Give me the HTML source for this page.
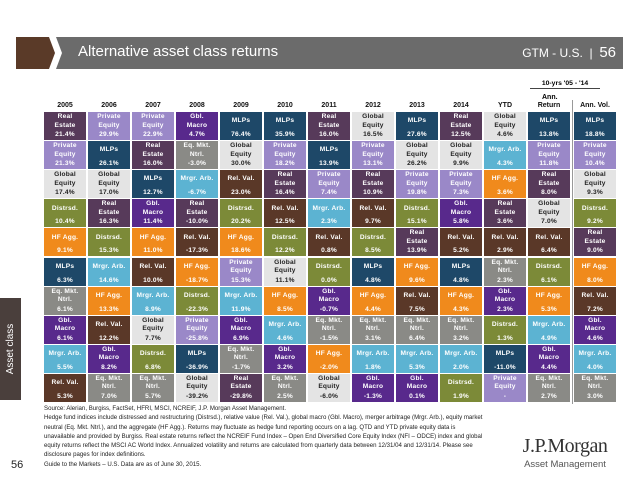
<!DOCTYPE html>
<html><head><meta charset="utf-8"><style>
body{margin:0;width:638px;height:479px;background:#fff;position:relative;overflow:hidden;font-family:"Liberation Sans",sans-serif}
.abs{position:absolute}
.cell{position:absolute;width:42px;height:28px;color:#fff;font-weight:bold;font-size:6.6px;letter-spacing:0.2px;text-align:center}
.cell .nm{position:absolute;left:0;right:0;top:0;height:19px;display:flex;align-items:center;justify-content:center;line-height:8.4px}
.cell .vl{position:absolute;left:0;right:0;bottom:1px;line-height:8px}
.hd{position:absolute;width:44px;text-align:center;font-size:7px;font-weight:bold;color:#111}
.fn{position:absolute;left:44px;font-size:6.1px;color:#222;line-height:9.3px;width:440px}
</style></head><body>
<svg class="abs" style="left:0;top:0" width="638" height="80">
<polygon points="16,37 49,37 55,53 49,69 16,69" fill="#5a3a28"/>
<polygon points="56,37 623,37 623,69 56,69 62,53" fill="#6b6b6b"/>
</svg>
<div class="abs" style="left:78px;top:43px;font-size:15px;color:#fff">Alternative asset class returns</div>
<div class="abs" style="left:470px;top:44px;font-size:12px;color:#fff;width:146px;text-align:right;white-space:nowrap">GTM - U.S. &nbsp;|&nbsp; <span style="font-size:15px">56</span></div>
<div class="abs" style="left:530px;top:80px;font-size:6.8px;font-weight:bold;width:70px;text-align:center;border-bottom:1px solid #444;padding-bottom:1px">10-yrs '05 - '14</div>
<div class="abs" style="left:542px;top:94px;font-size:7px;font-weight:bold">Ann.</div>
<div class="abs" style="left:572px;top:100px;width:1px;height:304px;background:#999"></div>
<div class="abs" style="left:0;top:298px;width:21px;height:102px;background:#4a3f3c"></div>
<div class="abs" style="left:-40px;top:342px;width:102px;height:14px;line-height:14px;text-align:center;color:#fff;font-size:10px;transform:rotate(-90deg)">Asset class</div>
<div id="grid"></div>
<div class="fn" style="top:404px">Source: Alerian, Burgiss, FactSet, HFRI, MSCI, NCREIF, J.P. Morgan Asset Management.<br>Hedge fund indices include distressed and restructuring (Distrsd.), relative value (Rel. Val.), global macro (Gbl. Macro), merger arbitrage (Mrgr. Arb.), equity market neutral (Eq. Mkt. Ntrl.), and the aggregate (HF Agg.). Returns may fluctuate as hedge fund reporting occurs on a lag. QTD and YTD private equity data is unavailable and provided by Burgiss. Real estate returns reflect the NCREIF Fund Index – Open End Diversified Core Equity Index (NFI – ODCE) index and global equity returns reflect the MSCI AC World Index. Annualized volatility and returns are calculated from quarterly data between 12/31/04 and 12/31/14. Please see disclosure pages for index definitions.<br>Guide to the Markets – U.S. Data are as of June 30, 2015.</div>
<div class="abs" style="left:11px;top:459px;font-size:11px;color:#222">56</div>
<div class="abs" style="left:495px;top:435px;width:140px;text-align:center;font-family:'Liberation Serif',serif;font-size:20px;color:#333;letter-spacing:-0.5px">J.P.Morgan</div>
<div class="abs" style="left:495px;top:459px;width:140px;text-align:center;font-size:9.5px;color:#555">Asset Management</div>
<script>
const headers=["2005","2006","2007","2008","2009","2010","2011","2012","2013","2014","YTD","Return","Ann. Vol."];
const c2005=["RE","PE","GE","DI","HF","ML","EQ","GM","MA","RV"];const v2005=["21.4%","21.3%","17.4%","10.4%","9.1%","6.3%","6.1%","6.1%","5.5%","5.3%"];
const c2006=["PE","ML","GE","RE","DI","MA","HF","RV","GM","EQ"];const v2006=["29.9%","26.1%","17.0%","16.3%","15.3%","14.6%","13.3%","12.2%","8.2%","7.0%"];
const c2007=["PE","RE","ML","GM","HF","RV","MA","GE","DI","EQ"];const v2007=["22.9%","16.0%","12.7%","11.4%","11.0%","10.0%","8.9%","7.7%","6.8%","5.7%"];
const c2008=["GM","EQ","MA","RE","RV","HF","DI","PE","ML","GE"];const v2008=["4.7%","-3.0%","-6.7%","-10.0%","-17.3%","-18.7%","-22.3%","-25.8%","-36.9%","-39.2%"];
const c2009=["ML","GE","RV","DI","HF","PE","MA","GM","EQ","RE"];const v2009=["76.4%","30.0%","23.0%","20.2%","18.6%","15.3%","11.9%","6.9%","-1.7%","-29.8%"];
const c2010=["ML","PE","RE","RV","DI","GE","HF","MA","GM","EQ"];const v2010=["35.9%","18.2%","16.4%","12.5%","12.2%","11.1%","8.5%","4.6%","3.2%","2.5%"];
const c2011=["RE","ML","PE","MA","RV","DI","GM","EQ","HF","GE"];const v2011=["16.0%","13.9%","7.4%","2.3%","0.8%","0.0%","-0.7%","-1.5%","-2.0%","-6.0%"];
const c2012=["GE","PE","RE","RV","DI","ML","HF","EQ","MA","GM"];const v2012=["16.5%","13.1%","10.9%","9.7%","8.5%","4.8%","4.4%","3.1%","1.8%","-1.3%"];
const c2013=["ML","GE","PE","DI","RE","HF","RV","EQ","MA","GM"];const v2013=["27.6%","26.2%","19.8%","15.1%","13.9%","9.6%","7.5%","6.4%","5.3%","0.1%"];
const c2014=["RE","GE","PE","GM","RV","ML","HF","EQ","MA","DI"];const v2014=["12.5%","9.9%","7.3%","5.8%","5.2%","4.8%","4.3%","3.2%","2.0%","1.9%"];
const cYTD=["GE","MA","HF","RE","RV","EQ","GM","DI","ML","PE"];const vYTD=["4.6%","4.3%","3.6%","3.6%","2.9%","2.3%","2.3%","1.3%","-11.0%","-"];
const cRet=["ML","PE","RE","GE","RV","DI","HF","MA","GM","EQ"];const vRet=["13.8%","11.8%","8.0%","7.0%","6.4%","6.1%","5.3%","4.9%","4.4%","2.7%"];
const cVol=["ML","PE","GE","DI","RE","HF","RV","GM","MA","EQ"];const vVol=["18.8%","10.4%","9.3%","9.2%","9.0%","8.0%","7.2%","4.6%","4.0%","3.0%"];
const cols=[[c2005,v2005],[c2006,v2006],[c2007,v2007],[c2008,v2008],[c2009,v2009],[c2010,v2010],[c2011,v2011],[c2012,v2012],[c2013,v2013],[c2014,v2014],[cYTD,vYTD],[cRet,vRet],[cVol,vVol]];
const names={RE:"Real<br>Estate",PE:"Private<br>Equity",GE:"Global<br>Equity",DI:"Distrsd.",HF:"HF Agg.",ML:"MLPs",EQ:"Eq. Mkt.<br>Ntrl.",GM:"Gbl.<br>Macro",MA:"Mrgr. Arb.",RV:"Rel. Val."};
const colors={RE:"#573a5a",PE:"#9a88c8",GE:"#e4e4e4",DI:"#7c8a38",HF:"#f08a1c",ML:"#1e4868",EQ:"#8a8a86",GM:"#58298c",MA:"#5cb3d2",RV:"#5a3828"};
const g=document.getElementById('grid');
function colX(i){return 44+i*44+(i==12?2:0);}
function rowY(r){return 112+r*29.1;}
headers.forEach((h,i)=>{const d=document.createElement('div');d.className='hd';d.style.left=(colX(i)-1)+'px';d.style.top='102px';d.textContent=h;


g.appendChild(d);});
cols.forEach((col,i)=>{col[0].forEach((k,r)=>{const d=document.createElement('div');d.className='cell';


d.style.left=colX(i)+'px';d.style.top=rowY(r)+'px';d.style.background=colors[k];if(k=="GE")d.style.color="#222";
d.innerHTML='<div class="nm">'+names[k]+'</div><div class="vl">'+col[1][r]+'</div>';g.appendChild(d);});});
</script>
</body></html>
